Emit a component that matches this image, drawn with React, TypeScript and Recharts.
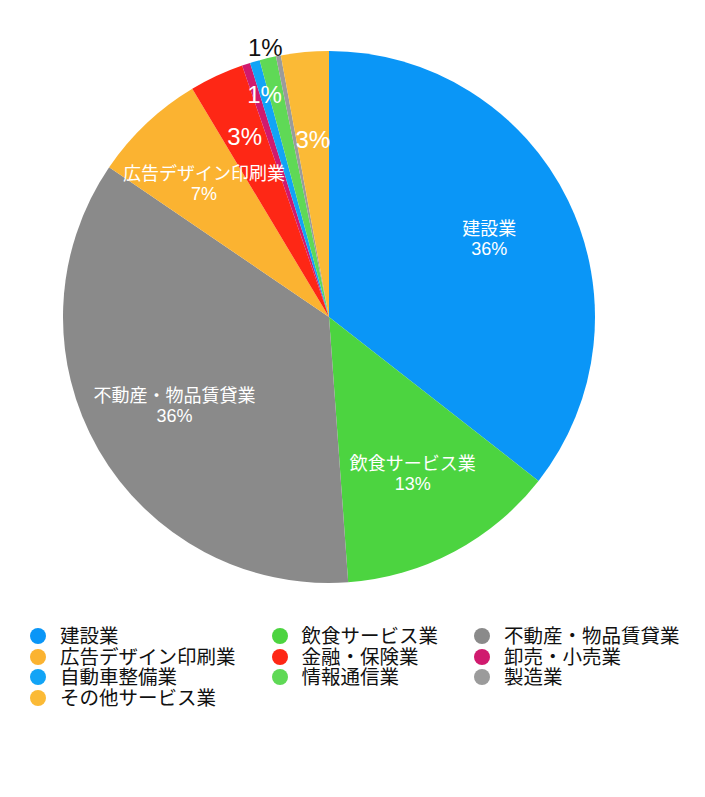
import React from "react";
import { PieChart, Pie, Cell, Legend } from "recharts";

// 業種別の割合（%）
const industries = [
  "建設業",
  "飲食サービス業",
  "不動産・物品賃貸業",
  "広告デザイン印刷業",
  "金融・保険業",
  "卸売・小売業",
  "自動車整備業",
  "情報通信業",
  "製造業",
  "その他サービス業",
];
const shares = [35.6, 13.3, 35.7, 6.9, 3.3, 0.5, 0.6, 1.0, 0.3, 2.9];
const colors = [
  "#0A96F7",
  "#4CD440",
  "#8A8A8A",
  "#FBB331",
  "#FE2715",
  "#D01A6E",
  "#12A4F6",
  "#5FD956",
  "#9B9B9B",
  "#FBBA36",
];

// label style per slice: full = name + %, pct = % only, out = % outside (dark), none
const labelKinds = ["full", "full", "full", "full", "pct", "none", "pct", "out", "none", "pct"];
const labelRadius = [0.67, 0.67, 0.67, 0.685, 0.75, 0, 0.87, 1.04, 0, 0.67];

const data = industries.map((name, i) => ({ name, value: shares[i] }));

const FONT = "'Liberation Sans', 'Noto Sans CJK JP', sans-serif";
const RAD = Math.PI / 180;

function renderLabel(props: any) {
  const { cx, cy, midAngle, outerRadius, index, percent } = props;
  const kind = labelKinds[index];
  if (kind === "none") return null;
  const r = outerRadius * labelRadius[index];
  const x = cx + r * Math.cos(-midAngle * RAD);
  const y = cy + r * Math.sin(-midAngle * RAD);
  const pct = `${Math.round(percent * 100)}%`;
  if (kind === "full") {
    return (
      <text x={x} y={y} fill="#fff" textAnchor="middle" fontFamily={FONT} fontSize={18}>
        <tspan x={x} y={y - 10} dominantBaseline="central">
          {industries[index]}
        </tspan>
        <tspan x={x} y={y + 10} dominantBaseline="central">
          {pct}
        </tspan>
      </text>
    );
  }
  return (
    <text
      x={x}
      y={y}
      fill={kind === "out" ? "#111" : "#fff"}
      textAnchor="middle"
      dominantBaseline="central"
      fontFamily={FONT}
      fontSize={24}
    >
      {pct}
    </text>
  );
}

function LegendGrid() {
  return (
    <div
      style={{
        display: "grid",
        gridTemplateColumns: "auto auto auto",
        columnGap: 36,
        justifyContent: "start",
        fontFamily: FONT,
        fontSize: 19.5,
        lineHeight: "20.5px",
        color: "#111",
      }}
    >
      {industries.map((name, i) => (
        <div key={name} style={{ display: "flex", alignItems: "center", whiteSpace: "nowrap" }}>
          <span
            style={{
              width: 16,
              height: 16,
              borderRadius: "50%",
              background: colors[i],
              marginRight: 14,
              flex: "none",
            }}
          />
          <span>{name}</span>
        </div>
      ))}
    </div>
  );
}

export default function App() {
  return (
    <PieChart width={689} height={780} margin={{ top: 0, right: 0, bottom: 0, left: 0 }}>
      <Pie
        data={data}
        dataKey="value"
        nameKey="name"
        cx={321}
        cy={309}
        outerRadius={266}
        startAngle={90}
        endAngle={-270}
        stroke="none"
        labelLine={false}
        label={renderLabel}
        isAnimationActive={false}
      >
        {data.map((d, i) => (
          <Cell key={d.name} fill={colors[i]} />
        ))}
      </Pie>
      <Legend content={<LegendGrid />} wrapperStyle={{ top: 618, left: 22, width: "auto" }} />
    </PieChart>
  );
}
